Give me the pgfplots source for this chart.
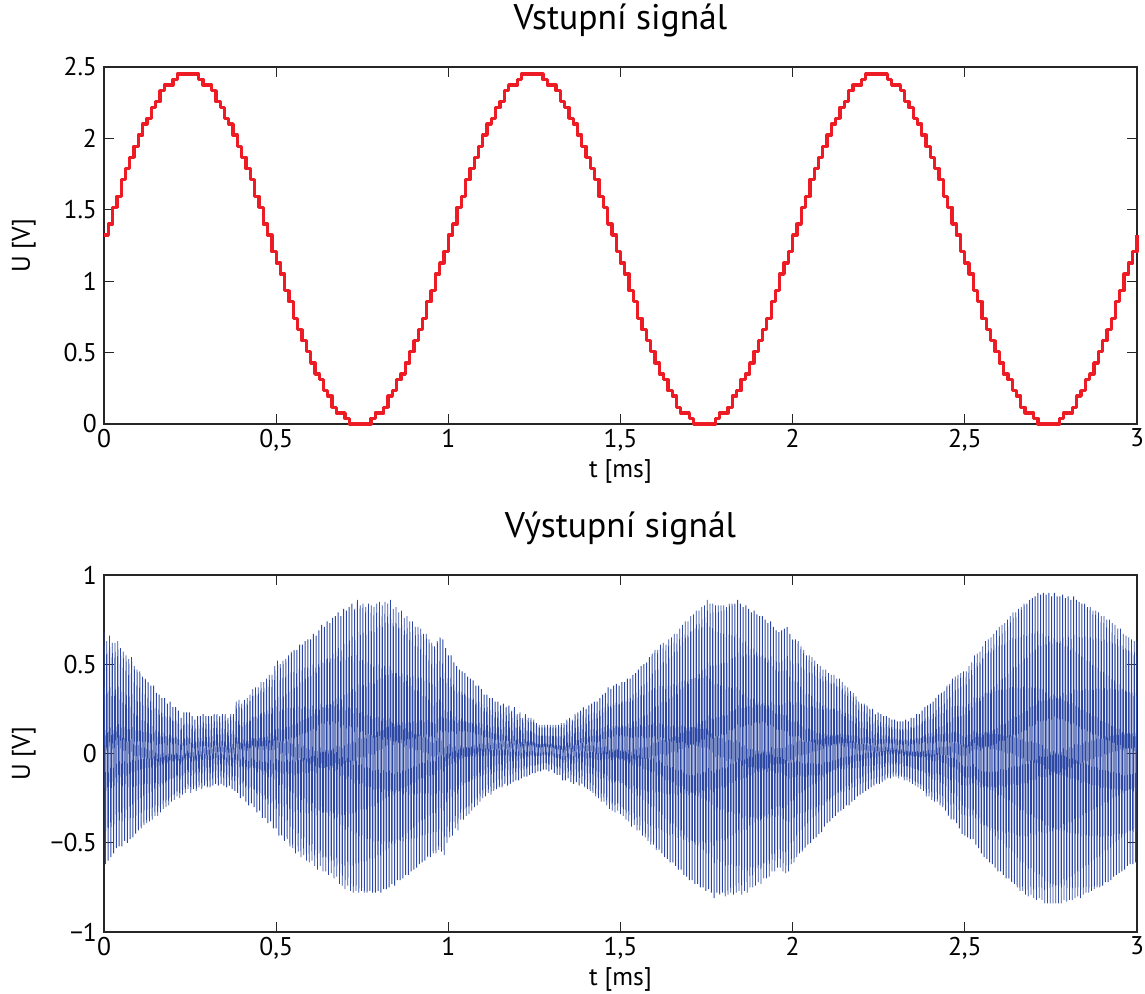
\documentclass[border=0pt]{standalone}
\usepackage{fontspec}
\setmainfont{PT Sans}
\usepackage{pgfplots}
\pgfplotsset{compat=1.18}
\definecolor{sigred}{RGB}{237,28,36}
\definecolor{sigblue}{RGB}{44,72,164}
\pgfplotsset{
  mystyle/.style={
    width=516.5pt, height=178.5pt, scale only axis,
    xmin=0, xmax=3,
    xtick={0,0.5,1,1.5,2,2.5,3},
    xticklabels={0,{0,5},1,{1,5},2,{2,5},3},
    tick align=inside, major tick length=5pt,
    tick style={black!85, line width=0.5pt},
    axis line style={black!85, line width=0.6pt},
    ticklabel style={font=\fontsize{12.8}{14}\selectfont},
    xticklabel style={yshift=1pt},
    label style={font=\fontsize{12.8}{14}\selectfont},
    title style={font=\fontsize{17.8}{20}\selectfont, at={(axis description cs:0.5,1)}, anchor=center, yshift=17.5pt},
    xlabel={t [ms]}, ylabel={U [V]},
    xlabel style={at={(axis description cs:0.5,0)}, anchor=center, yshift=-23.5pt},
    ylabel style={at={(axis description cs:-0.0775,0.5)}, anchor=center},
  }
}
\begin{document}
\begin{tikzpicture}
\begin{axis}[mystyle, name=topax, at={(0pt,254pt)}, anchor=south west,
  ymin=0, ymax=2.5, ytick={0,0.5,1,1.5,2,2.5},
  yticklabels={0,0.5,1,1.5,2,2.5},
  title={Vstupní signál}, clip=false]
\addplot[const plot, color=sigred, line width=1.65pt, line join=round] table {
t y
0 1.323
0.0125 1.400
0.025 1.517
0.0375 1.595
0.05 1.712
0.0625 1.789
0.075 1.867
0.0875 1.945
0.1 2.023
0.1125 2.101
0.125 2.140
0.1375 2.217
0.15 2.256
0.1625 2.334
0.175 2.373
0.1875 2.373
0.2 2.412
0.2125 2.45
0.225 2.45
0.2375 2.45
0.25 2.45
0.2625 2.45
0.275 2.412
0.2875 2.373
0.3 2.373
0.3125 2.334
0.325 2.256
0.3375 2.217
0.35 2.140
0.3625 2.101
0.375 2.023
0.3875 1.945
0.4 1.867
0.4125 1.789
0.425 1.712
0.4375 1.595
0.45 1.517
0.4625 1.400
0.475 1.323
0.4875 1.206
0.5 1.128
0.5125 1.050
0.525 0.934
0.5375 0.856
0.55 0.739
0.5625 0.661
0.575 0.584
0.5875 0.506
0.6 0.428
0.6125 0.350
0.625 0.311
0.6375 0.233
0.65 0.195
0.6625 0.117
0.675 0.078
0.6875 0.078
0.7 0.039
0.7125 0
0.725 0
0.7375 0
0.75 0
0.7625 0
0.775 0.039
0.7875 0.078
0.8 0.078
0.8125 0.117
0.825 0.195
0.8375 0.233
0.85 0.311
0.8625 0.350
0.875 0.428
0.8875 0.506
0.9 0.584
0.9125 0.661
0.925 0.739
0.9375 0.856
0.95 0.934
0.9625 1.050
0.975 1.128
0.9875 1.206
1.0 1.323
1.0125 1.400
1.025 1.517
1.0375 1.595
1.05 1.712
1.0625 1.789
1.075 1.867
1.0875 1.945
1.1 2.023
1.1125 2.101
1.125 2.140
1.1375 2.217
1.15 2.256
1.1625 2.334
1.175 2.373
1.1875 2.373
1.2 2.412
1.2125 2.45
1.225 2.45
1.2375 2.45
1.25 2.45
1.2625 2.45
1.275 2.412
1.2875 2.373
1.3 2.373
1.3125 2.334
1.325 2.256
1.3375 2.217
1.35 2.140
1.3625 2.101
1.375 2.023
1.3875 1.945
1.4 1.867
1.4125 1.789
1.425 1.712
1.4375 1.595
1.45 1.517
1.4625 1.400
1.475 1.323
1.4875 1.206
1.5 1.128
1.5125 1.050
1.525 0.934
1.5375 0.856
1.55 0.739
1.5625 0.661
1.575 0.584
1.5875 0.506
1.6 0.428
1.6125 0.350
1.625 0.311
1.6375 0.233
1.65 0.195
1.6625 0.117
1.675 0.078
1.6875 0.078
1.7 0.039
1.7125 0
1.725 0
1.7375 0
1.75 0
1.7625 0
1.775 0.039
1.7875 0.078
1.8 0.078
1.8125 0.117
1.825 0.195
1.8375 0.233
1.85 0.311
1.8625 0.350
1.875 0.428
1.8875 0.506
1.9 0.584
1.9125 0.661
1.925 0.739
1.9375 0.856
1.95 0.934
1.9625 1.050
1.975 1.128
1.9875 1.206
2.0 1.323
2.0125 1.400
2.025 1.517
2.0375 1.595
2.05 1.712
2.0625 1.789
2.075 1.867
2.0875 1.945
2.1 2.023
2.1125 2.101
2.125 2.140
2.1375 2.217
2.15 2.256
2.1625 2.334
2.175 2.373
2.1875 2.373
2.2 2.412
2.2125 2.45
2.225 2.45
2.2375 2.45
2.25 2.45
2.2625 2.45
2.275 2.412
2.2875 2.373
2.3 2.373
2.3125 2.334
2.325 2.256
2.3375 2.217
2.35 2.140
2.3625 2.101
2.375 2.023
2.3875 1.945
2.4 1.867
2.4125 1.789
2.425 1.712
2.4375 1.595
2.45 1.517
2.4625 1.400
2.475 1.323
2.4875 1.206
2.5 1.128
2.5125 1.050
2.525 0.934
2.5375 0.856
2.55 0.739
2.5625 0.661
2.575 0.584
2.5875 0.506
2.6 0.428
2.6125 0.350
2.625 0.311
2.6375 0.233
2.65 0.195
2.6625 0.117
2.675 0.078
2.6875 0.078
2.7 0.039
2.7125 0
2.725 0
2.7375 0
2.75 0
2.7625 0
2.775 0.039
2.7875 0.078
2.8 0.078
2.8125 0.117
2.825 0.195
2.8375 0.233
2.85 0.311
2.8625 0.350
2.875 0.428
2.8875 0.506
2.9 0.584
2.9125 0.661
2.925 0.739
2.9375 0.856
2.95 0.934
2.9625 1.050
2.975 1.128
2.9875 1.206
3.0 1.323
};
\end{axis}
\begin{axis}[mystyle, name=botax, at={(0pt,0pt)}, anchor=south west,
  ymin=-1, ymax=1, ytick={-1,-0.5,0,0.5,1},
  yticklabels={−1,−0.5,0,0.5,1},
  title={Výstupní signál}]
\addplot[color=sigblue, line width=0.42pt] table {
t y
0.000 0.68
0.004 -0.62
0.008 0.63
0.012 -0.60
0.016 0.66
0.020 -0.58
0.024 0.62
0.028 -0.56
0.032 0.62
0.036 -0.53
0.040 0.63
0.044 -0.52
0.048 0.59
0.052 -0.52
0.056 0.57
0.060 -0.49
0.064 0.55
0.068 -0.50
0.072 0.53
0.076 -0.48
0.080 0.54
0.084 -0.47
0.088 0.49
0.092 -0.45
0.096 0.47
0.100 -0.43
0.104 0.46
0.108 -0.42
0.112 0.43
0.116 -0.40
0.120 0.42
0.124 -0.39
0.128 0.40
0.132 -0.38
0.136 0.38
0.140 -0.37
0.144 0.38
0.148 -0.35
0.152 0.34
0.156 -0.35
0.160 0.33
0.164 -0.33
0.168 0.31
0.172 -0.31
0.176 0.31
0.180 -0.30
0.184 0.28
0.188 -0.29
0.192 0.29
0.196 -0.27
0.200 0.26
0.204 -0.26
0.208 0.26
0.212 -0.24
0.216 0.24
0.220 -0.25
0.224 0.20
0.228 -0.23
0.232 0.23
0.236 -0.22
0.240 0.23
0.244 -0.20
0.248 0.23
0.252 -0.22
0.256 0.21
0.260 -0.20
0.264 0.19
0.268 -0.21
0.272 0.21
0.276 -0.19
0.280 0.21
0.284 -0.20
0.288 0.22
0.292 -0.18
0.296 0.21
0.300 -0.19
0.304 0.21
0.308 -0.19
0.312 0.21
0.316 -0.18
0.320 0.22
0.324 -0.17
0.328 0.22
0.332 -0.18
0.336 0.21
0.340 -0.17
0.344 0.22
0.348 -0.18
0.352 0.22
0.356 -0.19
0.360 0.20
0.364 -0.18
0.368 0.22
0.372 -0.20
0.376 0.22
0.380 -0.21
0.384 0.29
0.388 -0.22
0.392 0.30
0.396 -0.25
0.400 0.28
0.404 -0.24
0.408 0.30
0.412 -0.27
0.416 0.31
0.420 -0.29
0.424 0.33
0.428 -0.28
0.432 0.36
0.436 -0.30
0.440 0.37
0.444 -0.33
0.448 0.37
0.452 -0.32
0.456 0.40
0.460 -0.36
0.464 0.40
0.468 -0.36
0.472 0.42
0.476 -0.39
0.480 0.44
0.484 -0.38
0.488 0.44
0.492 -0.42
0.496 0.49
0.500 -0.42
0.504 0.52
0.508 -0.46
0.512 0.50
0.516 -0.46
0.520 0.52
0.524 -0.49
0.528 0.53
0.532 -0.48
0.536 0.55
0.540 -0.52
0.544 0.57
0.548 -0.53
0.552 0.58
0.556 -0.56
0.560 0.58
0.564 -0.55
0.568 0.61
0.572 -0.58
0.576 0.61
0.580 -0.57
0.584 0.63
0.588 -0.60
0.592 0.64
0.596 -0.61
0.600 0.64
0.604 -0.60
0.608 0.67
0.612 -0.63
0.616 0.66
0.620 -0.65
0.624 0.69
0.628 -0.63
0.632 0.72
0.636 -0.66
0.640 0.71
0.644 -0.66
0.648 0.74
0.652 -0.68
0.656 0.73
0.660 -0.67
0.664 0.76
0.668 -0.70
0.672 0.77
0.676 -0.69
0.680 0.79
0.684 -0.73
0.688 0.77
0.692 -0.74
0.696 0.81
0.700 -0.76
0.704 0.80
0.708 -0.74
0.712 0.82
0.716 -0.77
0.720 0.84
0.724 -0.78
0.728 0.81
0.732 -0.77
0.736 0.86
0.740 -0.78
0.744 0.83
0.748 -0.77
0.752 0.84
0.756 -0.78
0.760 0.82
0.764 -0.78
0.768 0.84
0.772 -0.77
0.776 0.83
0.780 -0.78
0.784 0.82
0.788 -0.78
0.792 0.84
0.796 -0.77
0.800 0.85
0.804 -0.78
0.808 0.83
0.812 -0.76
0.816 0.85
0.820 -0.76
0.824 0.84
0.828 -0.75
0.832 0.86
0.836 -0.73
0.840 0.81
0.844 -0.74
0.848 0.82
0.852 -0.71
0.856 0.79
0.860 -0.71
0.864 0.80
0.868 -0.70
0.872 0.76
0.876 -0.68
0.880 0.77
0.884 -0.68
0.888 0.74
0.892 -0.66
0.896 0.74
0.900 -0.65
0.904 0.71
0.908 -0.64
0.912 0.71
0.916 -0.62
0.920 0.70
0.924 -0.61
0.928 0.67
0.932 -0.60
0.936 0.67
0.940 -0.58
0.944 0.64
0.948 -0.58
0.952 0.62
0.956 -0.56
0.960 0.60
0.964 -0.56
0.968 0.63
0.972 -0.54
0.976 0.65
0.980 -0.55
0.984 0.64
0.988 -0.57
0.992 0.59
0.996 -0.50
1.000 0.55
1.004 -0.47
1.008 0.55
1.012 -0.46
1.016 0.51
1.020 -0.42
1.024 0.49
1.028 -0.43
1.032 0.47
1.036 -0.37
1.040 0.46
1.044 -0.37
1.048 0.45
1.052 -0.35
1.056 0.43
1.060 -0.34
1.064 0.42
1.068 -0.32
1.072 0.41
1.076 -0.30
1.080 0.38
1.084 -0.29
1.088 0.38
1.092 -0.27
1.096 0.36
1.100 -0.25
1.104 0.33
1.108 -0.24
1.112 0.33
1.116 -0.22
1.120 0.31
1.124 -0.23
1.128 0.31
1.132 -0.21
1.136 0.29
1.140 -0.20
1.144 0.29
1.148 -0.19
1.152 0.27
1.156 -0.19
1.160 0.28
1.164 -0.17
1.168 0.26
1.172 -0.18
1.176 0.27
1.180 -0.17
1.184 0.24
1.188 -0.16
1.192 0.26
1.196 -0.15
1.200 0.22
1.204 -0.15
1.208 0.23
1.212 -0.14
1.216 0.20
1.220 -0.13
1.224 0.22
1.228 -0.13
1.232 0.20
1.236 -0.12
1.240 0.20
1.244 -0.11
1.248 0.19
1.252 -0.11
1.256 0.17
1.260 -0.10
1.264 0.16
1.268 -0.10
1.272 0.16
1.276 -0.09
1.280 0.16
1.284 -0.09
1.288 0.16
1.292 -0.10
1.296 0.16
1.300 -0.09
1.304 0.16
1.308 -0.11
1.312 0.16
1.316 -0.12
1.320 0.16
1.324 -0.12
1.328 0.17
1.332 -0.15
1.336 0.17
1.340 -0.15
1.344 0.19
1.348 -0.14
1.352 0.20
1.356 -0.16
1.360 0.19
1.364 -0.17
1.368 0.22
1.372 -0.16
1.376 0.23
1.380 -0.18
1.384 0.24
1.388 -0.17
1.392 0.26
1.396 -0.19
1.400 0.25
1.404 -0.20
1.408 0.27
1.412 -0.21
1.416 0.28
1.420 -0.22
1.424 0.29
1.428 -0.24
1.432 0.29
1.436 -0.25
1.440 0.31
1.444 -0.27
1.448 0.33
1.452 -0.27
1.456 0.34
1.460 -0.29
1.464 0.37
1.468 -0.31
1.472 0.36
1.476 -0.32
1.480 0.38
1.484 -0.33
1.488 0.39
1.492 -0.32
1.496 0.38
1.500 -0.34
1.504 0.40
1.508 -0.35
1.512 0.40
1.516 -0.37
1.520 0.42
1.524 -0.38
1.528 0.42
1.532 -0.41
1.536 0.44
1.540 -0.40
1.544 0.45
1.548 -0.43
1.552 0.47
1.556 -0.43
1.560 0.49
1.564 -0.46
1.568 0.50
1.572 -0.47
1.576 0.51
1.580 -0.49
1.584 0.54
1.588 -0.51
1.592 0.56
1.596 -0.51
1.600 0.58
1.604 -0.54
1.608 0.58
1.612 -0.54
1.616 0.61
1.620 -0.56
1.624 0.62
1.628 -0.58
1.632 0.61
1.636 -0.59
1.640 0.64
1.644 -0.61
1.648 0.65
1.652 -0.61
1.656 0.67
1.660 -0.63
1.664 0.67
1.668 -0.65
1.672 0.70
1.676 -0.65
1.680 0.72
1.684 -0.68
1.688 0.74
1.692 -0.69
1.696 0.74
1.700 -0.71
1.704 0.77
1.708 -0.71
1.712 0.78
1.716 -0.73
1.720 0.80
1.724 -0.73
1.728 0.80
1.732 -0.75
1.736 0.82
1.740 -0.75
1.744 0.83
1.748 -0.77
1.752 0.86
1.756 -0.76
1.760 0.84
1.764 -0.78
1.768 0.84
1.772 -0.81
1.776 0.83
1.780 -0.78
1.784 0.83
1.788 -0.79
1.792 0.83
1.796 -0.78
1.800 0.83
1.804 -0.80
1.808 0.82
1.812 -0.79
1.816 0.84
1.820 -0.78
1.824 0.84
1.828 -0.79
1.832 0.84
1.836 -0.78
1.840 0.86
1.844 -0.77
1.848 0.84
1.852 -0.79
1.856 0.82
1.860 -0.77
1.864 0.83
1.868 -0.78
1.872 0.81
1.876 -0.75
1.880 0.79
1.884 -0.75
1.888 0.80
1.892 -0.74
1.896 0.78
1.900 -0.72
1.904 0.77
1.908 -0.73
1.912 0.77
1.916 -0.70
1.920 0.75
1.924 -0.70
1.928 0.73
1.932 -0.69
1.936 0.74
1.940 -0.66
1.944 0.71
1.948 -0.66
1.952 0.69
1.956 -0.64
1.960 0.68
1.964 -0.64
1.968 0.69
1.972 -0.66
1.976 0.70
1.980 -0.67
1.984 0.71
1.988 -0.66
1.992 0.67
1.996 -0.62
2.000 0.64
2.004 -0.61
2.008 0.64
2.012 -0.58
2.016 0.63
2.020 -0.56
2.024 0.60
2.028 -0.55
2.032 0.58
2.036 -0.53
2.040 0.55
2.044 -0.51
2.048 0.55
2.052 -0.50
2.056 0.54
2.060 -0.48
2.064 0.52
2.068 -0.47
2.072 0.50
2.076 -0.45
2.080 0.49
2.084 -0.44
2.088 0.47
2.092 -0.41
2.096 0.47
2.100 -0.39
2.104 0.45
2.108 -0.38
2.112 0.44
2.116 -0.36
2.120 0.44
2.124 -0.35
2.128 0.42
2.132 -0.33
2.136 0.42
2.140 -0.32
2.144 0.40
2.148 -0.31
2.152 0.38
2.156 -0.29
2.160 0.37
2.164 -0.29
2.168 0.35
2.172 -0.27
2.176 0.34
2.180 -0.26
2.184 0.32
2.188 -0.24
2.192 0.29
2.196 -0.23
2.200 0.28
2.204 -0.22
2.208 0.28
2.212 -0.21
2.216 0.27
2.220 -0.20
2.224 0.25
2.228 -0.19
2.232 0.25
2.236 -0.18
2.240 0.22
2.244 -0.17
2.248 0.23
2.252 -0.17
2.256 0.22
2.260 -0.16
2.264 0.21
2.268 -0.15
2.272 0.21
2.276 -0.14
2.280 0.20
2.284 -0.14
2.288 0.19
2.292 -0.13
2.296 0.19
2.300 -0.13
2.304 0.18
2.308 -0.14
2.312 0.18
2.316 -0.13
2.320 0.18
2.324 -0.15
2.328 0.19
2.332 -0.15
2.336 0.18
2.340 -0.16
2.344 0.20
2.348 -0.17
2.352 0.20
2.356 -0.18
2.360 0.22
2.364 -0.19
2.368 0.22
2.372 -0.20
2.376 0.24
2.380 -0.21
2.384 0.26
2.388 -0.24
2.392 0.27
2.396 -0.24
2.400 0.28
2.404 -0.26
2.408 0.29
2.412 -0.27
2.416 0.31
2.420 -0.27
2.424 0.33
2.428 -0.29
2.432 0.34
2.436 -0.30
2.440 0.35
2.444 -0.32
2.448 0.38
2.452 -0.35
2.456 0.39
2.460 -0.37
2.464 0.42
2.468 -0.37
2.472 0.43
2.476 -0.39
2.480 0.44
2.484 -0.42
2.488 0.45
2.492 -0.45
2.496 0.46
2.500 -0.46
2.504 0.46
2.508 -0.47
2.512 0.49
2.516 -0.48
2.520 0.51
2.524 -0.48
2.528 0.55
2.532 -0.51
2.536 0.56
2.540 -0.53
2.544 0.57
2.548 -0.56
2.552 0.60
2.556 -0.58
2.560 0.63
2.564 -0.59
2.568 0.64
2.572 -0.61
2.576 0.65
2.580 -0.62
2.584 0.67
2.588 -0.64
2.592 0.69
2.596 -0.66
2.600 0.71
2.604 -0.66
2.608 0.72
2.612 -0.68
2.616 0.73
2.620 -0.70
2.624 0.75
2.628 -0.70
2.632 0.77
2.636 -0.72
2.640 0.79
2.644 -0.73
2.648 0.79
2.652 -0.75
2.656 0.81
2.660 -0.77
2.664 0.82
2.668 -0.77
2.672 0.84
2.676 -0.79
2.680 0.84
2.684 -0.80
2.688 0.86
2.692 -0.79
2.696 0.87
2.700 -0.81
2.704 0.88
2.708 -0.82
2.712 0.90
2.716 -0.81
2.720 0.89
2.724 -0.82
2.728 0.90
2.732 -0.84
2.736 0.89
2.740 -0.84
2.744 0.90
2.748 -0.84
2.752 0.88
2.756 -0.84
2.760 0.90
2.764 -0.84
2.768 0.88
2.772 -0.84
2.776 0.88
2.780 -0.84
2.784 0.89
2.788 -0.82
2.792 0.87
2.796 -0.83
2.800 0.88
2.804 -0.82
2.808 0.86
2.812 -0.82
2.816 0.88
2.820 -0.81
2.824 0.86
2.828 -0.80
2.832 0.85
2.836 -0.81
2.840 0.84
2.844 -0.79
2.848 0.84
2.852 -0.78
2.856 0.82
2.860 -0.78
2.864 0.82
2.868 -0.77
2.872 0.80
2.876 -0.76
2.880 0.80
2.884 -0.75
2.888 0.79
2.892 -0.75
2.896 0.77
2.900 -0.74
2.904 0.77
2.908 -0.72
2.912 0.75
2.916 -0.72
2.920 0.75
2.924 -0.71
2.928 0.73
2.932 -0.69
2.936 0.72
2.940 -0.68
2.944 0.70
2.948 -0.67
2.952 0.70
2.956 -0.66
2.960 0.67
2.964 -0.65
2.968 0.66
2.972 -0.63
2.976 0.65
2.980 -0.62
2.984 0.64
2.988 -0.62
2.992 0.63
2.996 -0.61
3.000 0.63
};
\end{axis}
\pgfresetboundingbox
\path (-52pt,-31pt) rectangle (520.5pt,466pt);
\end{tikzpicture}
\end{document}
